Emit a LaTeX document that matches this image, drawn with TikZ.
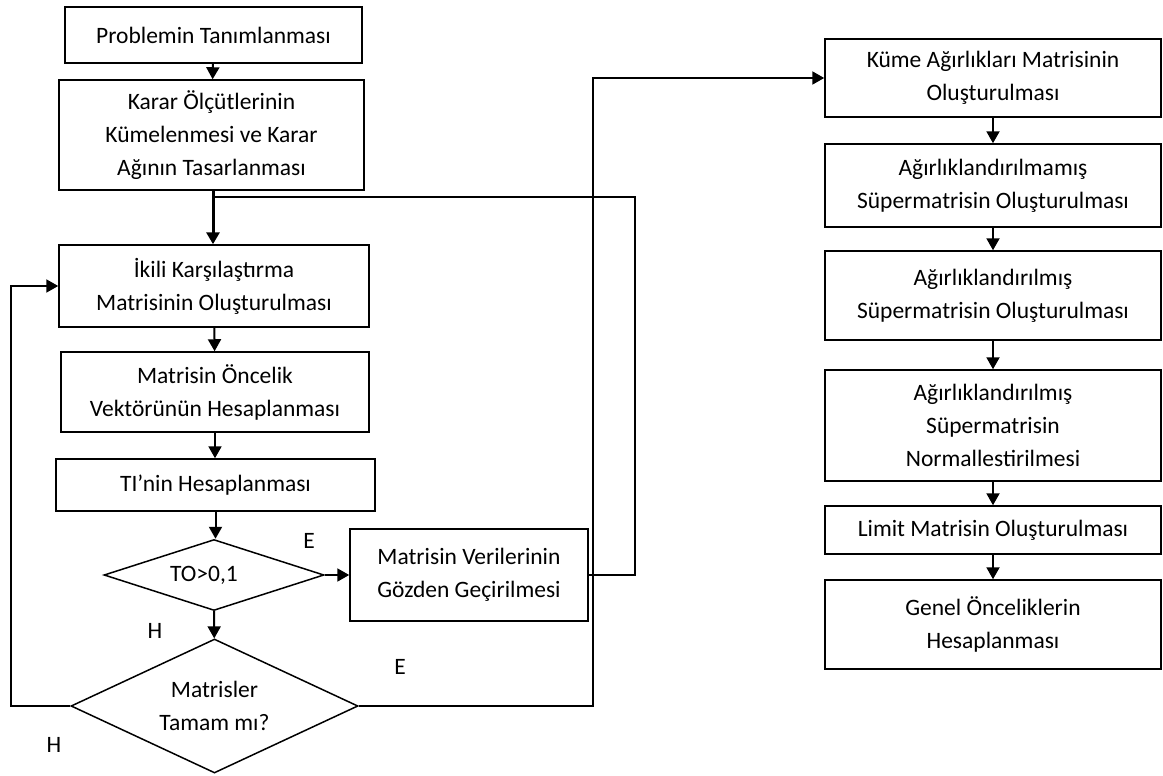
\documentclass[tikz,border=0pt]{standalone}
\usepackage{fontspec}
\setmainfont{Carlito}
\usetikzlibrary{arrows.meta,shapes.geometric}

\tikzset{
  box/.style={draw,line width=1.5pt,align=center,inner sep=0pt,
    font=\fontsize{23.5}{33}\selectfont},
  karo/.style={draw,diamond,line width=1.5pt,align=center,inner sep=0pt,
    font=\fontsize{23.5}{33}\selectfont},
  etiket/.style={font=\fontsize{23.5}{26}\selectfont},
  ok/.style={line width=2pt,-{Triangle[width=13pt,length=12pt]}},
  hat/.style={line width=2pt}
}

\begin{document}
\begin{tikzpicture}[x=1pt,y=-1pt]
        \useasboundingbox (0,0) rectangle (1163,776);

        % sol sutun
        \node[box,minimum width=297pt,minimum height=56pt] (prob) at (213.5,35) {Problemin Tanımlanması};
        \node[box,minimum width=305pt,minimum height=110pt] (karar) at (211.5,135) {Karar Ölçütlerinin\\Kümelenmesi ve Karar\\Ağının Tasarlanması};
        \node[box,minimum width=310pt,minimum height=82pt] (ikili) at (214,286) {İkili Karşılaştırma\\Matrisinin Oluşturulması};
        \node[box,minimum width=308pt,minimum height=80pt] (oncelik) at (215,392) {Matrisin Öncelik\\Vektörünün Hesaplanması};
        \node[box,minimum width=319pt,minimum height=52pt] (ti) at (215.5,485) {TI’nin Hesaplanması};
        \node[karo,shape aspect=3.1,minimum width=220pt,minimum height=71pt] (to) at (214,575) {TO>0,1\hspace*{20pt}};
        \node[box,minimum width=238pt,minimum height=92pt] (veri) at (469,575) {Matrisin Verilerinin\\Gözden Geçirilmesi};
        \node[karo,shape aspect=2.14,minimum width=287pt,minimum height=134pt] (mat) at (214.5,706) {Matrisler\\Tamam mı?};

        % sag sutun
        \node[box,minimum width=336pt,minimum height=78pt] (kume) at (993,78) {Küme Ağırlıkları Matrisinin\\Oluşturulması};
        \node[box,minimum width=336pt,minimum height=83pt] (agm) at (993,185.5) {Ağırlıklandırılmamış\\Süpermatrisin Oluşturulması};
        \node[box,minimum width=336pt,minimum height=89pt] (agd) at (993,295.5) {Ağırlıklandırılmış\\Süpermatrisin Oluşturulması};
        \node[box,minimum width=336pt,minimum height=111pt] (norm) at (993,425.5) {Ağırlıklandırılmış\\Süpermatrisin\\Normallestirilmesi};
        \node[box,minimum width=336pt,minimum height=48pt] (limit) at (993,530) {Limit Matrisin Oluşturulması};
        \node[box,minimum width=336pt,minimum height=89pt] (genel) at (993,624.5) {Genel Önceliklerin\\Hesaplanması};

        % E / H
        \node[etiket] (e1) at (309,541) {E};
        \node[etiket] (h1) at (155,631) {H};
        \node[etiket] (e2) at (400,667) {E};
        \node[etiket] (h2) at (54,745) {H};

        \coordinate (birles) at (213,197);
        \coordinate (vdon) at (635,197);
        \coordinate (sdon) at (11,286);
        \coordinate (rdon) at (593,78);

        \draw[ok] (prob) -- (karar);
        \draw[ok,line width=3pt] (karar.south -| birles) -- (ikili.north -| birles);
        \draw[ok] (ikili) -- (oncelik);
        \draw[ok] (oncelik.south) -- (oncelik.south |- ti.north);
        \draw[ok] (ti.south) -- (ti.south |- to.north);
        \draw[ok] (to) -- (mat);
        \draw[ok] (to) -- (veri);
        \draw[hat] (veri.east) -| (vdon) -- (birles);
        \draw[ok] (mat.west) -| (sdon) -- (ikili.west);
        \draw[ok] (mat.east) -| (rdon) -- (kume.west);

        \draw[ok] (kume) -- (agm);
        \draw[ok] (agm) -- (agd);
        \draw[ok] (agd) -- (norm);
        \draw[ok] (norm) -- (limit);
        \draw[ok] (limit) -- (genel);
\end{tikzpicture}
\end{document}
